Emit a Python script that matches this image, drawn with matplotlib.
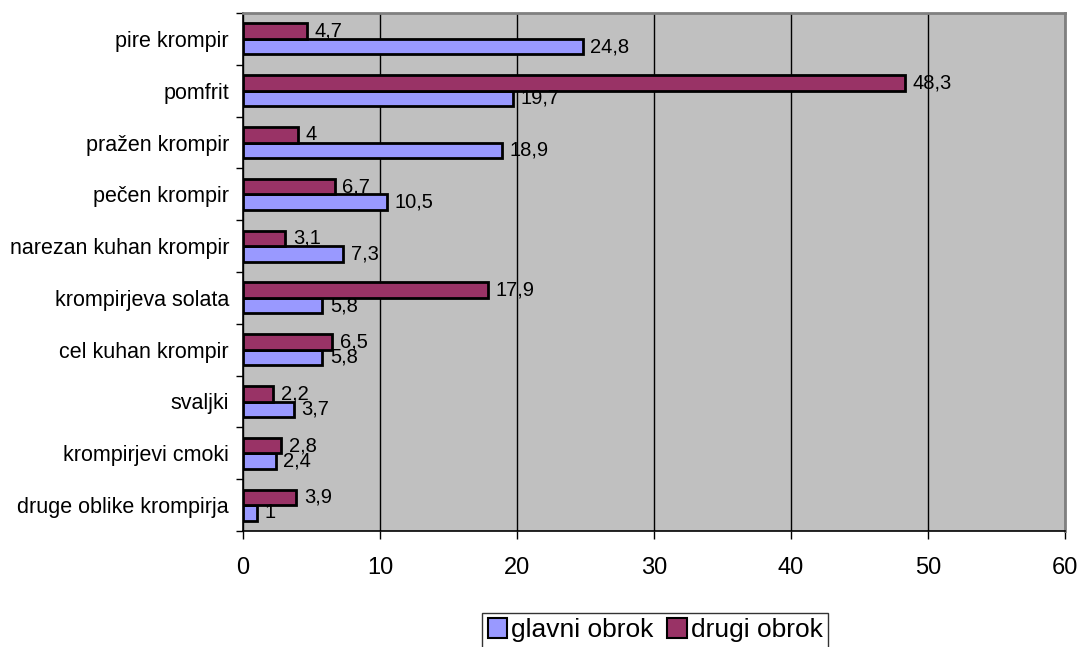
import matplotlib
matplotlib.use('Agg')
import matplotlib.pyplot as plt
from matplotlib.patches import Patch
import numpy as np

plt.rcParams['font.family'] = ['Liberation Sans', 'DejaVu Sans']

categories = ['druge oblike krompirja', 'krompirjevi cmoki', 'svaljki', 'cel kuhan krompir',
              'krompirjeva solata', 'narezan kuhan krompir', 'pečen krompir', 'pražen krompir',
              'pomfrit', 'pire krompir']
glavni = [1, 2.4, 3.7, 5.8, 5.8, 7.3, 10.5, 18.9, 19.7, 24.8]
drugi = [3.9, 2.8, 2.2, 6.5, 17.9, 3.1, 6.7, 4, 48.3, 4.7]
series_names = ['glavni obrok', 'drugi obrok']
xticks = [0, 10, 20, 30, 40, 50, 60]

blue = '#9999FF'
maroon = '#993366'


def fmt(v):
    return ('%g' % v).replace('.', ',')


fig = plt.figure(figsize=(10.82, 6.47), dpi=100)
ax = fig.add_axes([243 / 1082, 1 - 531 / 647, 822 / 1082, 518 / 647])
ax.set_facecolor('#C0C0C0')

y = np.arange(len(categories))
h = 0.3
ax.barh(y - h / 2, glavni, height=h, color=blue, edgecolor='black', linewidth=2, zorder=3)
ax.barh(y + h / 2, drugi, height=h, color=maroon, edgecolor='black', linewidth=2, zorder=3)

for yi, v in zip(y, glavni):
    ax.text(v + 0.55, yi - h / 2, fmt(v), fontsize=14.5, va='center', ha='left', zorder=4)
for yi, v in zip(y, drugi):
    ax.text(v + 0.55, yi + h / 2, fmt(v), fontsize=14.5, va='center', ha='left', zorder=4)

ax.set_xlim(0, 60)
ax.set_ylim(-0.5, len(categories) - 0.5)
ax.set_xticks(xticks)
ax.set_xticklabels([str(t) for t in xticks], fontsize=17)
ax.set_yticks(y)
ax.set_yticklabels(categories, fontsize=15.5)
ax.set_yticks(np.arange(-0.5, len(categories), 1), minor=True)
ax.tick_params(axis='y', which='major', length=0, pad=10)
ax.tick_params(axis='y', which='minor', length=5, width=1)
ax.tick_params(axis='x', length=6, width=1, pad=13)

ax.grid(axis='x', color='black', linewidth=1, zorder=1)
ax.set_axisbelow(True)
for s in ['top', 'right']:
    ax.spines[s].set_color('#808080')
    ax.spines[s].set_linewidth(2)
ax.spines['left'].set_linewidth(1.2)
ax.spines['bottom'].set_linewidth(1.2)

handles = [Patch(facecolor=blue, edgecolor='black', linewidth=1.5),
           Patch(facecolor=maroon, edgecolor='black', linewidth=1.5)]
fig.legend(handles, series_names, loc='upper center', bbox_to_anchor=(655 / 1082, 1 - 613 / 647),
           ncol=2, fontsize=19, frameon=True, fancybox=False, edgecolor='black', handlelength=0.75,
           handleheight=0.75, handletextpad=0.15, columnspacing=0.5, borderpad=0.2,
           borderaxespad=0)

fig.savefig('out.png', dpi=100)
